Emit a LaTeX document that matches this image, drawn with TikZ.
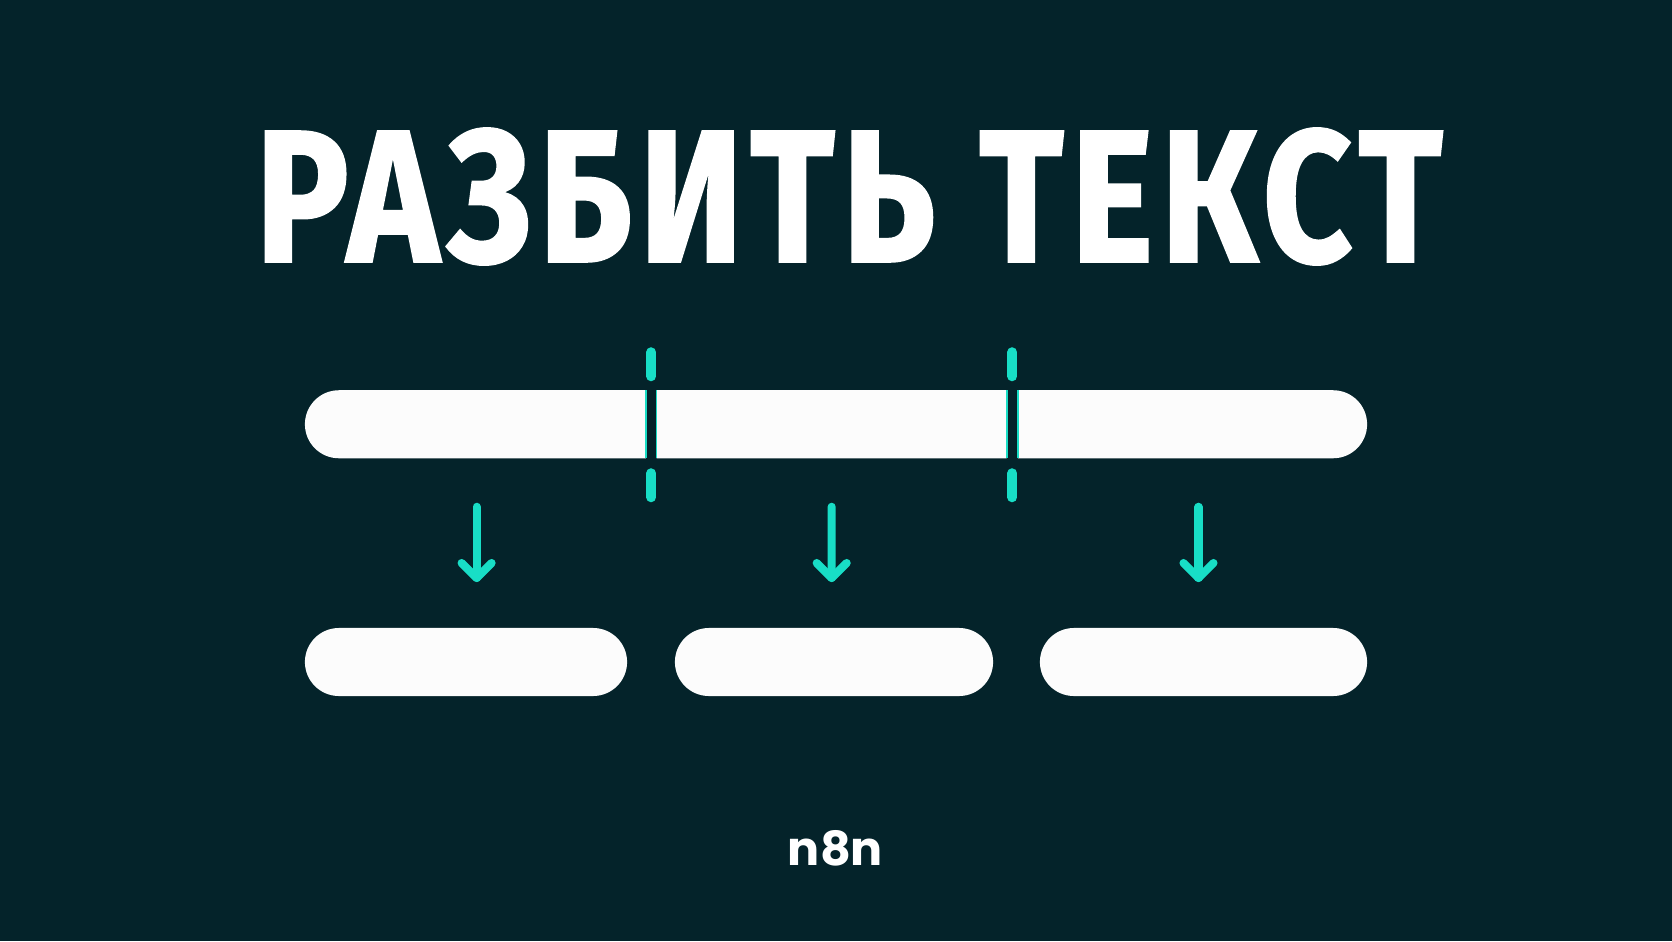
\documentclass[tikz,border=0pt]{standalone}
\usepackage{fontspec}
\usetikzlibrary{shapes.misc,calc}
\newfontfamily\titlefont{Fira Sans}[BoldFeatures={FakeBold=1.4,LetterSpace=5}]
\newfontfamily\logofont{Poppins}
\definecolor{bgc}{RGB}{4,35,42}
\definecolor{cyanc}{RGB}{24,222,198}
\definecolor{barc}{RGB}{252,252,252}
\tikzset{
  seg/.style={rounded rectangle, fill=barc, draw=none, minimum height=0.68cm, inner sep=0pt, outer sep=0pt},
  cut/.style={cyanc, line width=2.85pt, line cap=round},
  edge/.style={cyanc, line width=0.45pt},
  arr/.style={cyanc, line width=2.3pt, line cap=round, line join=round},
}
\begin{document}
\begin{tikzpicture}[x=0.01cm,y=0.01cm]
\fill[bgc] (0,0) rectangle (1672,941);
\useasboundingbox (0,0) rectangle (1672,941);
% title
\node[text=white, inner sep=0pt] (title) at (849,744.5) {\resizebox{11.86cm}{1.33cm}{\titlefont\bfseries РАЗБИТЬ ТЕКСТ}};
% top bar segments
\node[seg, rounded rectangle right arc=none, minimum width=3.407cm] (s1) at (475.35,516.75) {};
\node[seg, rounded rectangle left arc=none, rounded rectangle right arc=none, minimum width=3.499cm] (s2) at (831.65,516.75) {};
\node[seg, rounded rectangle left arc=none, minimum width=3.49cm] (s3) at (1192.5,516.75) {};
% cyan edges of gaps
\draw[edge] (s1.north east) -- (s1.south east);
\draw[edge] (s2.north west) -- (s2.south west);
\draw[edge] (s2.north east) -- (s2.south east);
\draw[edge] (s3.north west) -- (s3.south west);
% cut marks
\coordinate (c1) at (651.2,516.75);
\coordinate (c2) at (1012.3,516.75);
\draw[cut] ($(c1)+(0,48)$) -- ($(c1)+(0,72)$);
\draw[cut] ($(c1)+(0,-49)$) -- ($(c1)+(0,-73)$);
\draw[cut] ($(c2)+(0,48)$) -- ($(c2)+(0,72)$);
\draw[cut] ($(c2)+(0,-49)$) -- ($(c2)+(0,-73)$);
% bottom bars
\node[seg, minimum width=3.22cm] (b1) at (466,279) {};
\node[seg, minimum width=3.18cm] (b2) at (834,279) {};
\node[seg, minimum width=3.27cm] (b3) at (1203.5,279) {};
% arrows
\coordinate (e1) at (476.6,363);
\coordinate (e2) at (831.7,363);
\coordinate (e3) at (1198.5,363);
\draw[arr] ($(s1.south)+(1.25,-48.5)$) -- (e1);
\draw[arr] ($(e1)+(-15,15)$) -- (e1) -- ($(e1)+(15,15)$);
\draw[arr] ($(s2.south)+(0,-48.5)$) -- (e2);
\draw[arr] ($(e2)+(-15,15)$) -- (e2) -- ($(e2)+(15,15)$);
\draw[arr] ($(s3.south)+(6,-48.5)$) -- (e3);
\draw[arr] ($(e3)+(-15,15)$) -- (e3) -- ($(e3)+(15,15)$);
% logo
\node[text=white, inner sep=0pt, anchor=south] (logo) at (835.5,74) {\resizebox{0.95cm}{0.35cm}{\logofont\bfseries n8n}};
\end{tikzpicture}
\end{document}
